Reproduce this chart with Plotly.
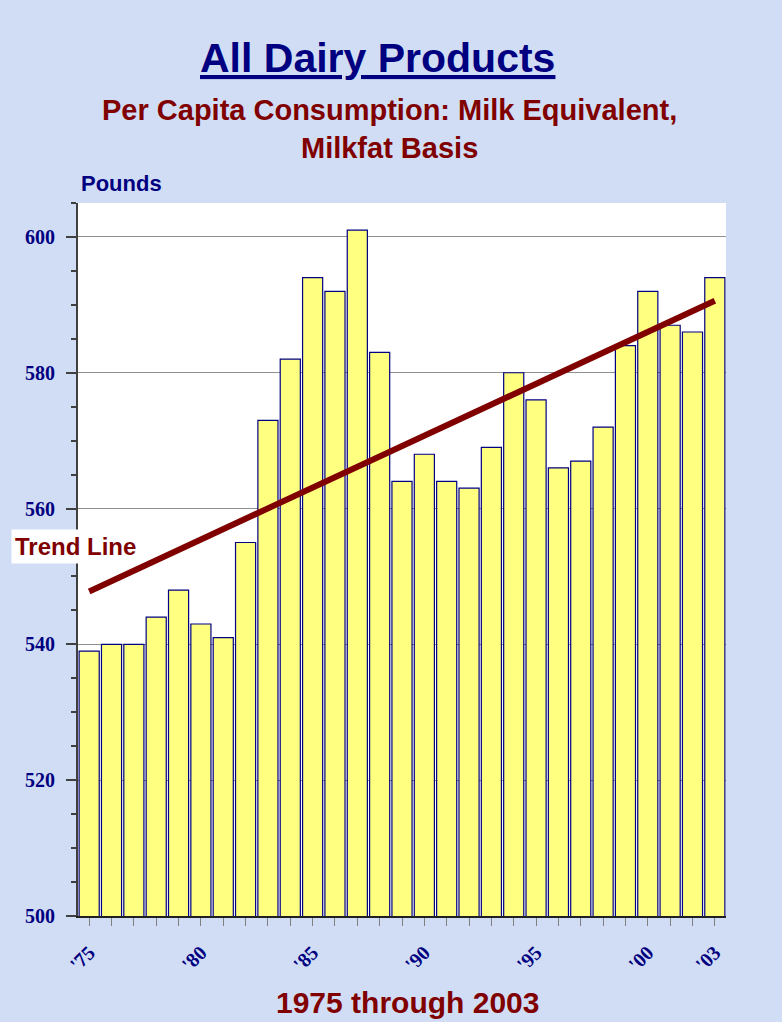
import plotly.graph_objects as go

years = list(range(1975, 2004))
pounds = [539, 540, 540, 544, 548, 543, 541, 555, 573, 582,
          594, 592, 601, 583, 564, 568, 564, 563, 569, 580,
          576, 566, 567, 572, 584, 592, 587, 586, 594]
label_years = [1975, 1980, 1985, 1990, 1995, 2000, 2003]
label_text = ["'75", "'80", "'85", "'90", "'95", "'00", "'03"]
trend_years = [1975, 2003]
trend_values = [547.8, 590.6]
y_ticks = [500, 520, 540, 560, 580, 600]

NAVY = "#000080"
DARKRED = "#800000"

tick_text = ["<b>" + label_text[label_years.index(y)] + "</b>" if y in label_years else "" for y in years]

fig = go.Figure()
fig.add_trace(go.Bar(
    x=years, y=pounds,
    marker=dict(color="#ffff80", line=dict(color=NAVY, width=1.2)),
    hoverinfo="x+y", showlegend=False,
))
fig.add_trace(go.Scatter(
    x=trend_years, y=trend_values, mode="lines",
    line=dict(color=DARKRED, width=6), showlegend=False, hoverinfo="skip",
))

plot_l, plot_r, plot_t, plot_b = 78, 726, 203, 916
W, H = 782, 1022
pw, ph = plot_r - plot_l, plot_b - plot_t

def px(x):
    return (x - plot_l) / pw

def py(y):
    return (plot_b - y) / ph

def ann(text, x, y, size, color, **kw):
    d = dict(text=text, x=px(x), y=py(y), xref="paper", yref="paper",
             xanchor="center", yanchor="middle", showarrow=False,
             font=dict(size=size, color=color))
    d.update(kw)
    return d

fig.update_layout(
    width=W, height=H,
    margin=dict(l=plot_l, r=W - plot_r, t=plot_t, b=H - plot_b),
    paper_bgcolor="#d1ddf5",
    plot_bgcolor="white",
    bargap=0.1,
    font=dict(family="Liberation Sans, Arial, sans-serif"),
    xaxis=dict(
        range=[1974.5, 2003.5],
        tickmode="array", tickvals=years, ticktext=tick_text,
        tickangle=-45,
        ticks="outside", ticklen=8, tickcolor="#808080", tickwidth=1,
        ticklabelstandoff=7,
        tickfont=dict(family="Liberation Serif, Times New Roman, serif", size=20, color=NAVY),
        showline=True, linecolor="#202020", linewidth=2,
        showgrid=False, zeroline=False, fixedrange=True,
    ),
    yaxis=dict(
        range=[500, 605],
        tickmode="array", tickvals=y_ticks,
        ticks="outside", ticklen=10, tickcolor="#404040", tickwidth=1.5,
        ticklabelstandoff=7,
        minor=dict(dtick=5, tick0=500, ticks="outside", ticklen=5, tickcolor="#404040", tickwidth=1.5, showgrid=False),
        tickfont=dict(family="Liberation Serif, Times New Roman, serif", size=20, color=NAVY, weight="bold"),
        showline=True, linecolor="#404040", linewidth=2,
        showgrid=True, gridcolor="#909090", gridwidth=1.2,
        zeroline=False, fixedrange=True,
    ),
    annotations=[
        ann("<b><u>All Dairy Products</u></b>", 377, 58, 41, NAVY),
        ann("<b>Per Capita Consumption: Milk Equivalent,<br>Milkfat Basis</b>", 389, 129, 29, DARKRED, align="center"),
        ann("<b>Pounds</b>", 121, 184, 22, NAVY),
        ann("<b>Trend Line</b>", 75, 546, 24, DARKRED, bgcolor="white", borderpad=3),
        ann("<b>1975 through 2003</b>", 407, 1002, 30, DARKRED),
    ],
)

fig.write_html("out.html", config={"displayModeBar": False},
               post_script="document.body.style.margin='0';")
